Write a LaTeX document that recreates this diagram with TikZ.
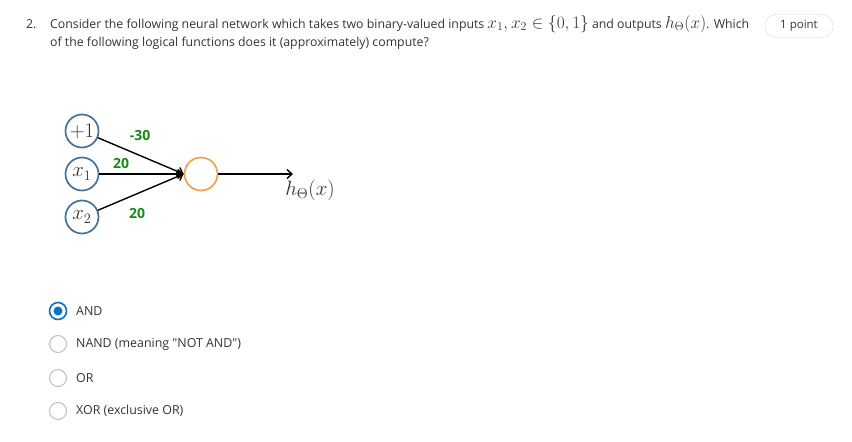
\documentclass[tikz,border=0pt]{standalone}
\usepackage{fontspec}
\setmainfont{Open Sans}[Ligatures=TeXOff]
\usetikzlibrary{arrows.meta}

\definecolor{unitblue}{HTML}{41719C}
\definecolor{unitorange}{HTML}{F4A04A}
\definecolor{weightgreen}{HTML}{178A17}
\definecolor{radioblue}{HTML}{0B72C6}
\definecolor{radiogrey}{HTML}{BDBDBD}
\definecolor{pillgrey}{HTML}{D8D8D8}
\definecolor{qtext}{HTML}{333333}

\newcommand{\bigmath}[1]{{\fontsize{17}{17}\selectfont$#1$}}

\begin{document}
\begin{tikzpicture}[x=1pt,y=-1pt,
    every node/.style={inner sep=0pt,text=qtext},
    qline/.style={anchor=base west,font=\fontsize{12.3}{14}\selectfont},
    answer/.style={anchor=west,font=\fontsize{12.4}{14}\selectfont},
    unit/.style={circle,draw=unitblue,line width=1.7pt,minimum size=33pt,
                 font=\fontsize{20}{20}\selectfont},
    weight/.style={text=weightgreen,font=\fontsize{14}{14}\selectfont\bfseries},
    radio/.style={circle,draw=radiogrey,line width=1pt,minimum size=17pt},
    link/.style={line width=1.4pt,-{Straight Barb[length=5pt,width=9pt]}}]

\useasboundingbox (0,0) rectangle (852,442);

% Question text
\node[qline] (qnum) at (26,28) {2.};
\node[qline] (q1) at (50,28) {Consider the following neural network which takes two binary-valued inputs \bigmath{x_1,x_2\in\{0,1\}} and outputs \bigmath{h_\Theta(x)}. Which};
\node[qline] (q2) at (50,46) {of the following logical functions does it (approximately) compute?};

% Points badge
\node[draw=pillgrey,rounded corners=11pt,minimum width=68pt,minimum height=23pt,
      font=\fontsize{11.5}{11.5}\selectfont] (pts) at (799,26) {1 point};

%========================
% Network
%========================

% Input units
\node[unit] (bias) at (82,131) {$+1$};
\node[unit] (x1) at (82,174) {$x_1$};
\node[unit] (x2) at (82,217) {$x_2$};

% Output unit
\node[unit,draw=unitorange] (out) at (201,174) {};
\coordinate (end) at (293,174);

% Edges
\draw[link] (bias) -- (out.west);
\draw[link] (x1) -- (out.west);
\draw[link] (x2) -- (out.west);
\draw[link] (out) -- (end);

% Weights
\node[weight] (w0) at (140,135) {-30};
\node[weight] (w1) at (121,163) {20};
\node[weight] (w2) at (137,213) {20};
\node[font=\fontsize{22}{22}\selectfont] (hx) at (310,190) {$h_\Theta(x)$};

%========================
% Answers
%========================

\node[radio,draw=radioblue,line width=1.6pt] (r1) at (58,311) {};
\fill[radioblue] (r1.center) circle (4.5pt);
\node[radio] (r2) at (58,344) {};
\node[radio] (r3) at (58,378) {};
\node[radio] (r4) at (58,411) {};

\node[answer] (a1) at (76,311) {AND};
\node[answer] (a2) at (76,344) {NAND (meaning "NOT AND")};
\node[answer] (a3) at (76,378) {OR};
\node[answer] (a4) at (76,411) {XOR (exclusive OR)};

\end{tikzpicture}
\end{document}
